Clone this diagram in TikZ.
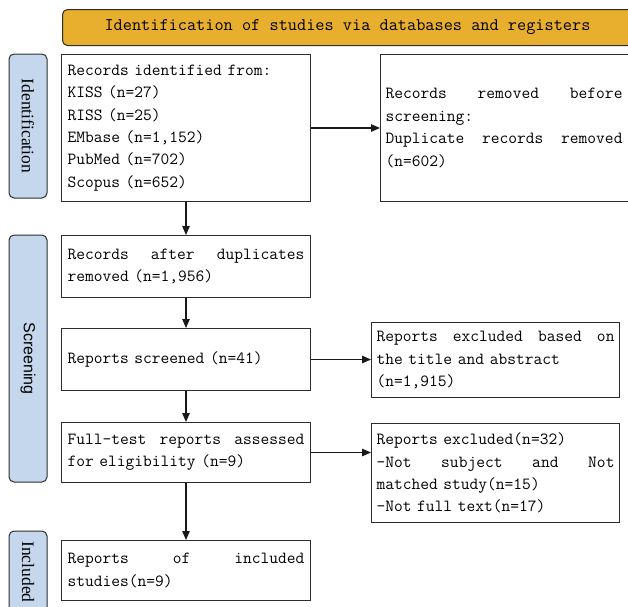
\documentclass[tikz,border=0pt]{standalone}
\usepackage{fontspec}
\setmainfont{Liberation Serif}
\newfontfamily\labsans{Liberation Sans}
\usetikzlibrary{arrows.meta}
\definecolor{titlegold}{RGB}{232,174,46}
\definecolor{sideblue}{RGB}{197,215,237}
\definecolor{edgegray}{RGB}{45,45,45}
\begin{document}
\begin{tikzpicture}[x=1pt,y=-1pt,
  box/.style={draw=edgegray, line width=1pt, anchor=north west, inner xsep=5pt, inner ysep=0pt,
    align=left, font=\ttfamily\fontsize{17}{22.4}\selectfont, text=black},
  side/.style={draw=edgegray, fill=sideblue, line width=1pt, rounded corners=5pt, rotate=-90,
    minimum height=38pt, inner sep=0pt, text=black},
  titlebar/.style={draw=edgegray, fill=titlegold, line width=1pt, rounded corners=5pt,
    anchor=north west, minimum width=570pt, minimum height=36pt, inner sep=0pt,
    font=\ttfamily\fontsize{17.8}{20}\selectfont, text=black},
  arr/.style={draw=black!90, line width=1.1pt, -{Triangle[length=9pt,width=7.5pt]}}
]
\useasboundingbox (0,0) rectangle (628,606);
\clip (0,0) rectangle (628,606);

\node[titlebar] (title) at (62,9) {Identification of studies via databases and registers};

\node[side, minimum width=144pt, font=\fontsize{17.5}{20}\selectfont] (sid) at (28,126) {Identification};
\node[side, minimum width=247pt, font=\labsans\fontsize{16}{20}\selectfont] (sscr) at (28,358.5) {Screening};
\node[side, minimum width=82pt, font=\fontsize{17.5}{20}\selectfont] (sinc) at (28,572) {Included};

\node[box, minimum width=249pt, minimum height=147pt, text width=237pt] (b1) at (61,54)
  {Records identified from:\\ KISS (n=27)\\ RISS (n=25)\\ EMbase (n=1,152)\\ PubMed (n=702)\\ Scopus (n=652)};
\node[box, minimum width=300pt, minimum height=147pt, text width=290pt] (rem) at (380,54)
  {\parbox{237pt}{Records\hfill removed\hfill before\\ screening:\\ Duplicate\hfill records\hfill removed\\ (n=602)}};

\node[box, minimum width=249pt, minimum height=62pt, text width=237pt] (b2) at (61,235)
  {Records\hfill after\hfill duplicates\\ removed (n=1,956)};
\node[box, minimum width=249pt, minimum height=62pt, text width=237pt] (b3) at (61,328)
  {Reports screened (n=41)};
\node[box, minimum width=248pt, minimum height=75pt, text width=238pt] (exc1) at (371,322)
  {Reports\hfill excluded\hfill based\hfill on\\ the title and abstract\\ (n=1,915)};

\node[box, minimum width=249pt, minimum height=60pt, text width=237pt] (b4) at (61,422)
  {Full-test\hfill reports\hfill assessed\\ for eligibility (n=9)};
\node[box, minimum width=248pt, minimum height=99pt, text width=238pt] (exc2) at (371,423)
  {Reports excluded(n=32)\\ -Not\hfill subject\hfill and\hfill Not\\ matched study(n=15)\\ -Not full text(n=17)};

\node[box, minimum width=249pt, minimum height=60pt, text width=237pt] (b5) at (61,540)
  {Reports\hfill of\hfill included\\ studies(n=9)};

\draw[arr] (b1.east) -- (b1.east -| rem.west);
\draw[arr] (b1.south) -- (b2.north);
\draw[arr] (b2.south) -- (b3.north);
\draw[arr] (b3.east) -- (b3.east -| exc1.west);
\draw[arr] (b3.south) -- (b4.north);
\draw[arr] (b4.east) -- (b4.east -| exc2.west);
\draw[arr] (b4.south) -- (b5.north);
\end{tikzpicture}
\end{document}
